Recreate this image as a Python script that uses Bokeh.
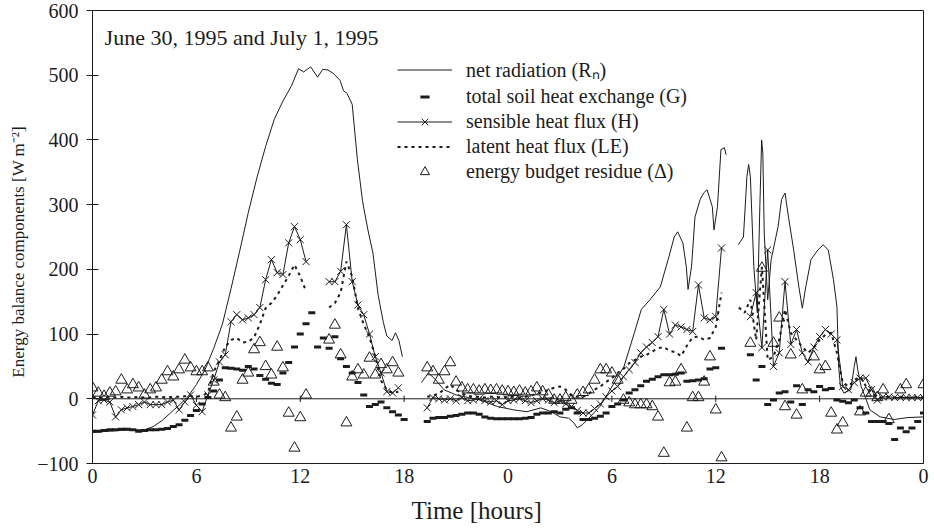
import numpy as np
from bokeh.plotting import figure
from bokeh.models import Range1d, FixedTicker, Span, Legend, LegendItem, Label
from bokeh.embed import file_html
from bokeh.resources import INLINE

nan = float("nan")

# 20-minute sampling grid over the two days (0 ... 48 h)
hours = np.arange(145) / 3.0

# Net radiation, digitised at its turning points (nan = logger gap)
rn_hours = [
    0.0, 1.0, 2.0, 3.0, 3.5, 4.0, 4.5, 5.0, 5.5, 6.0,
    6.5, 7.0, 7.5, 8.0, 8.5, 9.0, 9.5, 10.0, 10.5, 11.0,
    11.5, 11.9, 12.2, 12.6, 13.0, 13.3, 13.6, 13.9, 14.3, 14.5,
    14.7, 15.0, 15.3, 15.6, 15.9, 16.2, 16.5, 16.8, 17.0, 17.3,
    17.5, 17.7, 17.9, 18.4,
    19.0, 19.4, 19.8, 20.3, 21.0, 21.7, 22.4, 23.4, 24.3, 25.1,
    25.9, 26.5, 27.0, 27.5, 27.8, 28.0, 28.3, 28.6, 29.3, 29.9,
    30.7, 31.3, 31.7, 32.2, 32.8, 33.3, 33.6, 33.8, 34.1, 34.3,
    34.4, 34.6, 34.8, 35.1, 35.3, 35.5, 35.8, 35.9, 36.1, 36.3,
    36.5, 36.6, 36.9,
    37.3, 37.6, 37.8, 37.9, 38.0, 38.2, 38.4, 38.55, 38.65, 38.72,
    38.8, 39.0, 39.2, 39.6, 39.8, 40.0, 40.2, 40.5, 40.8, 41.0,
    41.2, 41.5, 41.9, 42.2, 42.5, 42.8, 43.0, 43.1, 43.2, 43.4,
    43.8, 44.0, 44.1, 44.2, 44.4, 44.7, 44.9, 45.5, 46.3, 47.1,
    48.0,
]
rn_values = [
    -52, -50, -48, -48, -43, -34, -22, -10, 3, 22,
    45, 78, 115, 170, 228, 288, 342, 390, 432, 460,
    484, 510, 505, 513, 497, 509, 508, 503, 492, 476,
    472, 455, 370, 305, 262, 225, 160, 118, 97, 90,
    102, 90, 65, nan,
    25, 40, 30, 14, 6, 2, -2, -12, -17, -20,
    -14, -20, -28, -30, -37, -45, -40, -32, -12, 14,
    50, 102, 138, 153, 173, 220, 250, 258, 241, 204,
    169, 204, 281, 308, 318, 323, 297, 261, 297, 385,
    388, 377, nan,
    238, 250, 343, 362, 343, 204, 133, 300, 400, 380,
    256, 153, 215, 266, 308, 318, 281, 230, 173, 140,
    173, 215, 230, 238, 230, 184, 142, 50, 19, 9,
    14, 50, 65, 45, 19, -2, -17, -28, -32, -29,
    -28,
]

# Total soil heat exchange G [W m-2], one value per 20 min
soil_heat_g = [
    -50, -50, -49, -48, -48, -47, -47, -48, -50,
    -49, -48, -48, -47, -46, -43, -40, -33, -26,
    -18, -8, 2, 12, 29, 48, 47, 46, 44,
    50, 46, 36, 30, 24, 22, 40, 56, 80,
    100, 116, 133, 80, 94, 78, 96, 62, 50,
    40, 25, 6, -12, -9, -5, -14, -20, -25,
    -32, nan, nan, nan, -35, -30, -29, -29, -27,
    -26, -24, -22, -22, -24, -28, -30, -31, -31,
    -31, -31, -31, -30, -29, -24, -22, -22, -20,
    -22, -16, -14, -22, -32, -32, -30, -27, -22,
    -12, -8, -2, 9, 14, 20, 27, 30, 34,
    37, 37, 38, 40, 27, 28, 29, 31, 46,
    48, 78, nan, nan, nan, nan, 68, 29, 50,
    -9, -2, 9, 11, -5, 20, -9, 14, 11,
    19, 14, 16, -2, -4, -6, -2, -14, -22,
    -35, -35, -35, -38, -63, -45, -51, -45, -35,
    -22,
]

# Sensible heat flux H
sensible_h = [
    -25, -3, -2, -5, -28, -17, -14, -12, -9,
    -5, -9, -9, -9, -5, -2, -17, -5, 6,
    -10, -20, 6, 29, 57, 68, 119, 130, 122,
    125, 130, 141, 184, 215, 195, 192, 241, 266,
    246, 212, nan, nan, nan, 181, 181, 197, 269,
    181, 145, 130, 100, 65, 40, 11, 9, 17,
    nan, nan, nan, nan, -14, 2, 0, -2, 0,
    -3, 2, -3, -2, 0, -3, -5, -3, -9,
    -3, -2, 0, -3, -6, -3, 0, -2, -6,
    -3, -8, -12, -18, -22, -22, -15, -8, 3,
    12, 19, 34, 45, 56, 71, 80, 87, 96,
    138, 100, 114, 111, 107, 104, 176, 125, 122,
    127, 233, nan, nan, nan, nan, 127, 164, 79,
    230, 50, 71, 181, 84, 107, 71, 57, 80,
    96, 107, 100, 91, 19, 14, 25, 32, 32,
    14, -2, 3, 3, 2, 2, 2, 2, 2,
    2,
]

# Latent heat flux LE
latent_le = [
    3, 2, 2, 3, 2, 3, 2, 2, 3,
    2, 2, 3, 3, 2, 3, 3, 4, 4,
    3, 5, 9, 42, 60, 80, 91, 94, 87,
    88, 95, 115, 140, 148, 160, 175, 190, 207,
    189, 166, nan, nan, nan, 141, 148, 164, 212,
    189, 140, 115, 95, 65, 28, 14, 9, 11,
    nan, nan, nan, nan, 3, 5, 8, 15, 22,
    14, 8, 5, 3, 3, 2, 3, 3, 2,
    3, 3, 2, 3, 5, 8, 10, 14, 17,
    19, 14, 5, 3, 3, 8, 14, 19, 26,
    32, 40, 46, 55, 60, 65, 68, 73, 78,
    80, 74, 72, 66, 82, 95, 96, 91, 94,
    111, 164, nan, nan, 141, 133, 153, 91, 204,
    60, 65, 91, 138, 102, 91, 80, 71, 79,
    91, 99, 102, 71, 25, 19, 29, 34, 20,
    9, 2, 2, 3, 2, 3, 2, 2, 3,
    2,
]

# Energy budget residue (delta)
residue = [
    17, 9, 4, 9, 11, 29, 14, 22, 17,
    6, 14, 17, 29, 42, 34, 45, 60, 48,
    42, 42, 48, 26, 6, 2, -45, -28, 29,
    40, 76, 87, 50, 37, 80, 48, -22, -76,
    -29, 6, nan, nan, nan, 91, 114, 68, -37,
    34, 45, 37, 63, 37, 53, 45, 56, 40,
    nan, nan, nan, nan, 48, 42, 29, 42, 56,
    26, 17, 14, 14, 12, 14, 13, 14, 12,
    11, 10, 12, 9, 11, 17, 11, 6, -2,
    -2, 2, -2, 6, 10, 14, 29, 45, 45,
    40, 29, -2, -6, -9, -9, -9, -12, -28,
    -84, 25, 26, 45, -45, 2, 2, 26, 65,
    -17, -91, nan, nan, nan, nan, 86, nan, 202,
    nan, 86, 125, -12, 68, -25, 14, nan, 65,
    45, 50, -22, -48, -37, nan, nan, -20, 9,
    9, 2, 14, -32, nan, 14, 22, nan, nan,
    22,
]

tick_hours = [0, 6, 12, 18, 24, 30, 36, 42, 48]
tick_labels = ["0", "6", "12", "18", "0", "6", "12", "18", "0"]
value_ticks = [-100, 0, 100, 200, 300, 400, 500, 600]

INK = "#1c1c1c"
SERIF = "Liberation Serif"
NBSP = "\u00a0"

p = figure(
    width=934, height=530,
    x_range=Range1d(0, 48), y_range=Range1d(-100, 600),
    output_backend="svg", toolbar_location=None,
    min_border_left=92, min_border_right=11,
    min_border_top=10, min_border_bottom=67,
)
p.background_fill_color = "white"
p.border_fill_color = "white"
p.xgrid.grid_line_color = None
p.ygrid.grid_line_color = None
p.outline_line_color = INK
p.outline_line_width = 1

# x axis: clock hours of two consecutive days
p.xaxis.ticker = FixedTicker(ticks=tick_hours)
p.xaxis.major_label_overrides = {h: lab for h, lab in zip(tick_hours, tick_labels)}
p.xaxis.major_tick_in = 0
p.xaxis.major_tick_out = 0
p.xaxis.minor_tick_line_color = None
p.xaxis.axis_line_color = INK
p.xaxis.major_label_text_font = SERIF
p.xaxis.major_label_text_font_size = "20px"
p.xaxis.major_label_text_color = INK
p.xaxis.major_label_standoff = 5
# trailing no-break spaces sit the title a little left of centre
p.xaxis.axis_label = "Time [hours]" + NBSP * 10
p.xaxis.axis_label_text_font = SERIF
p.xaxis.axis_label_text_font_size = "25px"
p.xaxis.axis_label_text_font_style = "normal"
p.xaxis.axis_label_text_color = INK
p.xaxis.axis_label_standoff = 11

p.yaxis.ticker = FixedTicker(ticks=value_ticks)
p.yaxis.major_tick_in = 6
p.yaxis.major_tick_out = 6
p.yaxis.major_tick_line_color = INK
p.yaxis.minor_tick_line_color = None
p.yaxis.axis_line_color = INK
p.yaxis.major_label_text_font = SERIF
p.yaxis.major_label_text_font_size = "20px"
p.yaxis.major_label_text_color = INK
p.yaxis.major_label_standoff = 8
p.yaxis.axis_label = "Energy balance components [W m\u207b\u00b2]" + NBSP * 7
p.yaxis.axis_label_text_font = SERIF
p.yaxis.axis_label_text_font_size = "17px"
p.yaxis.axis_label_text_font_style = "normal"
p.yaxis.axis_label_text_color = INK
p.yaxis.axis_label_standoff = 6

# zero line with hour ticks on it
p.add_layout(Span(location=0, dimension="width", line_color=INK, line_width=1))
inner_ticks = tick_hours[1:-1]
p.segment(x0=inner_ticks, y0=[-5] * len(inner_ticks),
          x1=inner_ticks, y1=[5] * len(inner_ticks),
          line_color=INK, line_width=1)

# series
rn_r = p.line(rn_hours, rn_values, line_color=INK, line_width=1)
g_r = p.scatter(hours, soil_heat_g, marker="dash", size=7,
                line_color=INK, line_width=3)
h_line = p.line(hours, sensible_h, line_color=INK, line_width=1)
h_pts = p.scatter(hours, sensible_h, marker="x", size=10,
                  line_color=INK, line_width=1)
le_r = p.line(hours, latent_le, line_color=INK, line_width=2, line_dash="3 4")
res_r = p.scatter(hours, residue, marker="triangle", size=11,
                  fill_color=None, line_color=INK, line_width=1)

p.add_layout(Label(x=0.7, y=558, text="June 30, 1995 and July 1, 1995",
                   text_font=SERIF, text_font_size="22px", text_color=INK,
                   text_baseline="alphabetic"))

legend = Legend(
    items=[
        LegendItem(label="net radiation (R\u2099)", renderers=[rn_r]),
        LegendItem(label="total soil heat exchange (G)", renderers=[g_r]),
        LegendItem(label="sensible heat flux (H)", renderers=[h_line, h_pts]),
        LegendItem(label="latent heat flux (LE)", renderers=[le_r]),
        LegendItem(label="energy budget residue (\u0394)", renderers=[res_r]),
    ],
    location=(305, 280), orientation="vertical",
    padding=0, margin=0, spacing=2,
    glyph_width=55, glyph_height=23, label_height=23, label_standoff=14,
    background_fill_alpha=0, border_line_alpha=0,
    label_text_font=SERIF, label_text_font_size="20px", label_text_color=INK,
)
p.add_layout(legend)

open("out.html", "w").write(file_html(p, INLINE))
